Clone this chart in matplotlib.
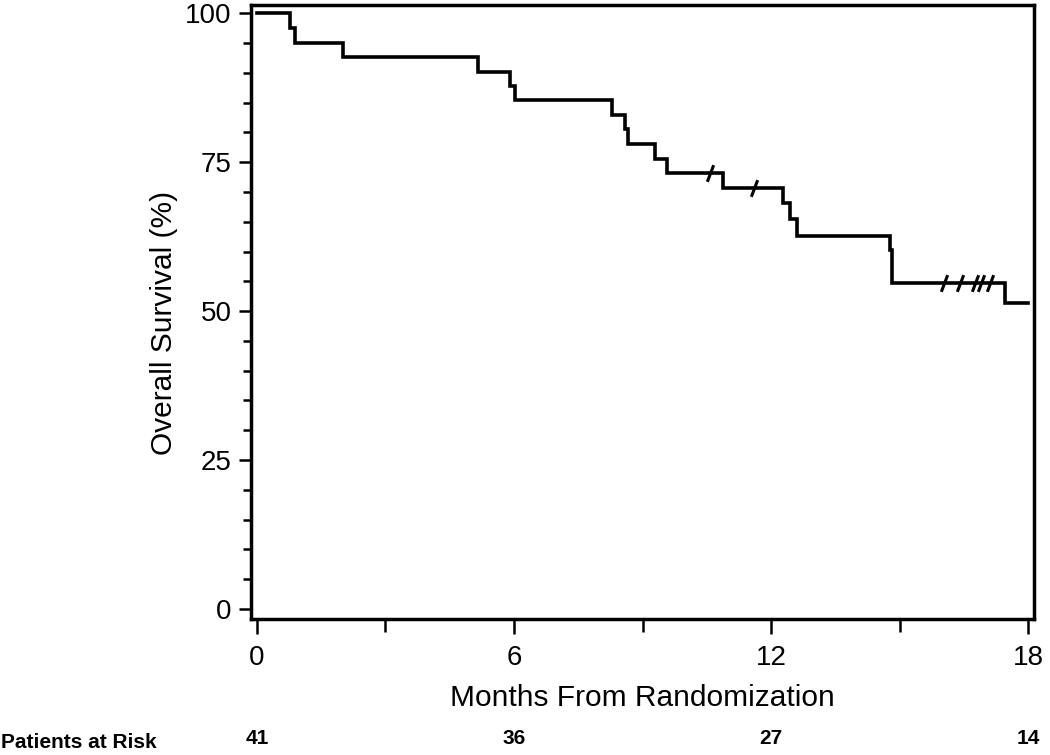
import numpy as np
import matplotlib
matplotlib.use('Agg')
import matplotlib.pyplot as plt
from matplotlib.path import Path
from matplotlib.ticker import MultipleLocator

plt.rcParams['font.family'] = ['Liberation Sans', 'DejaVu Sans']

# --- data ---
event_months = [0, 0.77, 0.89, 2.0, 5.17, 5.9, 6.02, 8.28, 8.59, 8.65, 9.29, 9.57,
                10.88, 12.28, 12.44, 12.6, 14.78, 14.83, 17.46, 18.0]
survival_pct = [100, 97.6, 95.1, 92.7, 90.2, 87.8, 85.4, 82.9, 80.5, 78.0, 75.6, 73.2,
                70.6, 68.1, 65.4, 62.6, 60.3, 54.8, 51.3, 51.3]
censor_months = [10.58, 11.6, 16.04, 16.41, 16.76, 16.9, 17.11]

risk_months = [0, 6, 12, 18]
at_risk = [41, 36, 27, 14]

# survival value at each censor time (step function, post)
idx = np.searchsorted(event_months, censor_months, side='right') - 1
censor_pct = [survival_pct[i] for i in idx]

fig = plt.figure(figsize=(10.5, 7.55), dpi=100)
ax = fig.add_axes([0.239, 0.180, 0.746, 0.8134])

ax.step(event_months, survival_pct, where='post', color='black', lw=2.6, solid_joinstyle='miter')

slash = Path([(-0.19, -0.5), (0.19, 0.5)], [Path.MOVETO, Path.LINETO])
ax.plot(censor_months, censor_pct, linestyle='none', marker=slash, markersize=12,
        markeredgewidth=2.2, color='black')

ax.set_xlim(-0.14, 18.14)
ax.set_ylim(-1.7, 101.4)

ax.xaxis.set_major_locator(MultipleLocator(6))
ax.xaxis.set_minor_locator(MultipleLocator(3))
ax.yaxis.set_major_locator(MultipleLocator(25))
ax.yaxis.set_minor_locator(MultipleLocator(5))

for s in ax.spines.values():
    s.set_linewidth(2.5)

ax.tick_params(axis='x', which='major', length=11, width=1.8, pad=8, labelsize=20)
ax.tick_params(axis='x', which='minor', length=9, width=1.8)
ax.tick_params(axis='y', which='major', length=9, width=1.8, pad=5, labelsize=20)
ax.tick_params(axis='y', which='minor', length=6, width=1.8)

ax.set_xlabel('Months From Randomization', fontsize=21.5, labelpad=9)
ax.set_ylabel('Overall Survival (%)', fontsize=21.5, labelpad=5)
ax.yaxis.label.set_y(0.482)

# patients at risk row
fig.text(0.001, 0.016, 'Patients at Risk', fontsize=15, fontweight='bold', ha='left', va='center')
for m, n in zip(risk_months, at_risk):
    ax.annotate(str(n), xy=(m, 0), xycoords=('data', 'figure fraction'),
                xytext=(0, 12), textcoords='offset points',
                fontsize=15, fontweight='bold', ha='center', va='center')

fig.savefig('out.png', dpi=100)
